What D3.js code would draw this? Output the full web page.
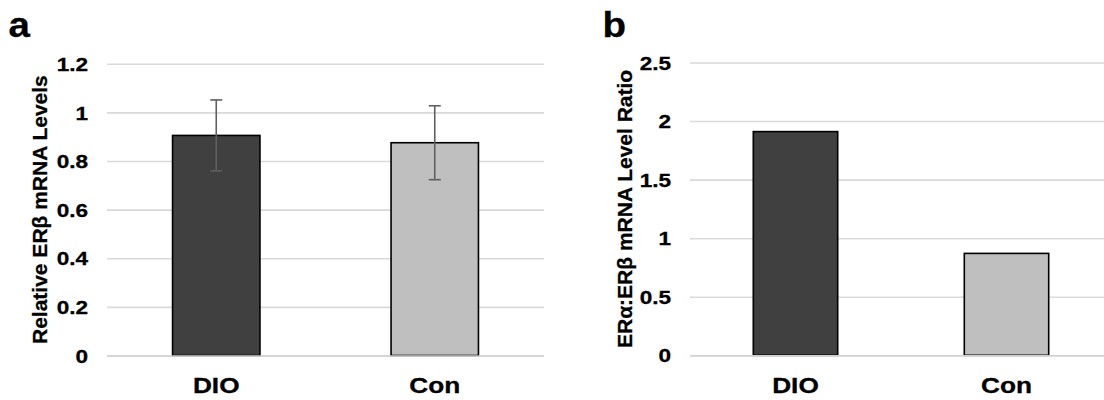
<!DOCTYPE html>
<html>
<head>
<meta charset="utf-8">
<script src="https://cdn.jsdelivr.net/npm/d3@7/dist/d3.min.js"></script>
<style>
  html, body { margin: 0; padding: 0; background: #fff; }
  svg { display: block; font-family: "Liberation Sans", Arial, Helvetica, sans-serif; font-weight: bold; }
  svg text { stroke: #000; stroke-width: 0.3px; }
</style>
</head>
<body>
<svg id="fig" width="1104" height="400"></svg>
<script>
// Groups shown on both panels
const categories = ["DIO", "Con"];
const barColors = ["#404040", "#bfbfbf"];

// Panel a: relative ERβ mRNA levels (mean ± error)
const levelsA = [0.905, 0.875];
const errorsA = [0.146, 0.152];
const ticksA = [0, 0.2, 0.4, 0.6, 0.8, 1, 1.2];
const tickLabelsA = ["0", "0.2", "0.4", "0.6", "0.8", "1", "1.2"];

// Panel b: ERα:ERβ mRNA level ratio
const ratioB = [1.91, 0.87];
const ticksB = [0, 0.5, 1, 1.5, 2, 2.5];
const tickLabelsB = ["0", "0.5", "1", "1.5", "2", "2.5"];

const svg = d3.select("#fig");
const TEXT_STRETCH = 1.22;

function drawPanel(opt) {
  const g = svg.append("g");
  const x = d3.scaleBand().domain(categories)
    .range([opt.x0, opt.x1]).paddingInner(0.6).paddingOuter(0.3);
  const y = d3.scaleLinear().domain(opt.domain).range([opt.y0, opt.y1]);

  // gridlines + tick labels from a left axis
  const axis = d3.axisLeft(y)
    .tickValues(opt.ticks)
    .tickFormat((d, i) => opt.tickLabels[i])
    .tickSize(-(opt.x1 - opt.x0))
    .tickPadding(0);
  const ax = g.append("g").attr("transform", `translate(${opt.x0},0)`).call(axis);
  ax.select(".domain").remove();
  ax.selectAll(".tick line").attr("stroke", "#d9d9d9").attr("stroke-width", 1.6);
  ax.selectAll(".tick text")
    .attr("fill", "#000")
    .attr("font-size", 18.5)
    .attr("font-weight", "bold")
    .attr("x", null)
    .attr("dy", "0.36em")
    .attr("transform", `translate(-19,0) scale(${TEXT_STRETCH},1)`);

  // bars
  g.selectAll("rect.bar").data(opt.values).join("rect")
    .attr("class", "bar")
    .attr("x", (d, i) => x(categories[i]))
    .attr("width", x.bandwidth())
    .attr("y", d => y(d))
    .attr("height", d => y(0) - y(d))
    .attr("fill", (d, i) => barColors[i])
    .attr("stroke", "#000")
    .attr("stroke-width", 1.6);

  // baseline drawn over the bar bottoms
  g.append("line")
    .attr("x1", opt.x0).attr("x2", opt.x1)
    .attr("y1", y(0) + 0.5).attr("y2", y(0) + 0.5)
    .attr("stroke", "#d0d0d0").attr("stroke-width", 1.6);

  // error bars
  if (opt.errors) {
    const eb = g.selectAll("g.err").data(opt.values).join("g").attr("class", "err")
      .attr("stroke", "#5f5f5f").attr("stroke-width", 1.6);
    eb.each(function (d, i) {
      const cx = x(categories[i]) + x.bandwidth() / 2;
      const lo = y(d - opt.errors[i]), hi = y(d + opt.errors[i]);
      const s = d3.select(this);
      s.append("line").attr("x1", cx).attr("x2", cx).attr("y1", lo).attr("y2", hi);
      s.append("line").attr("x1", cx - 6).attr("x2", cx + 6).attr("y1", hi).attr("y2", hi);
      s.append("line").attr("x1", cx - 6).attr("x2", cx + 6).attr("y1", lo).attr("y2", lo);
    });
  }

  // category labels
  g.selectAll("text.cat").data(categories).join("text")
    .attr("class", "cat")
    .attr("text-anchor", "middle")
    .attr("font-size", 21.5)
    .attr("transform", d => `translate(${x(d) + x.bandwidth() / 2},392.5) scale(${TEXT_STRETCH},1)`)
    .text(d => d);

  // y-axis title
  g.append("text")
    .attr("text-anchor", "middle")
    .attr("font-size", 21)
    .attr("transform", `translate(${opt.titleX},${(opt.y0 + opt.y1) / 2}) rotate(-90)`)
    .text(opt.title);

  // panel letter
  g.append("text")
    .attr("font-size", 35)
    .attr("transform", `translate(${opt.letterX},37) scale(1.1,1)`)
    .text(opt.letter);
}

drawPanel({
  x0: 107, x1: 544, y0: 355.5, y1: 63.7, domain: [0, 1.2],
  ticks: ticksA, tickLabels: tickLabelsA,
  values: levelsA, errors: errorsA,
  title: "Relative ERβ mRNA Levels", titleX: 46.5,
  letter: "a", letterX: 8.5
});

drawPanel({
  x0: 690, x1: 1112, y0: 355.3, y1: 62.5, domain: [0, 2.5],
  ticks: ticksB, tickLabels: tickLabelsB,
  values: ratioB, errors: null,
  title: "ERα:ERβ mRNA Level Ratio", titleX: 631.5,
  letter: "b", letterX: 602.5
});
</script>
</body>
</html>
